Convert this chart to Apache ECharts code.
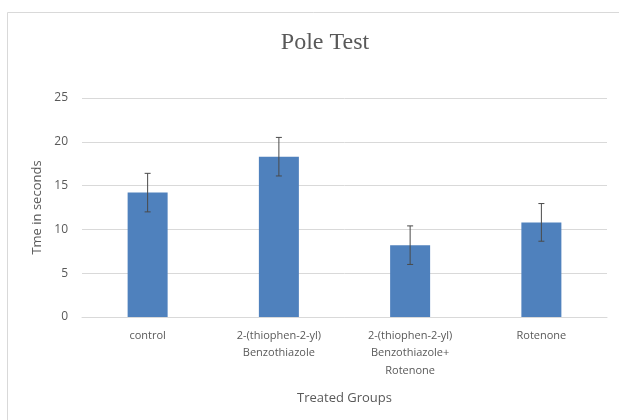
<!DOCTYPE html>
<html>
<head>
<meta charset="utf-8">
<script src="https://cdn.jsdelivr.net/npm/echarts@6/dist/echarts.min.js"></script>
<style>html,body{margin:0;padding:0;background:#fff}#c{width:619px;height:420px}</style>
</head>
<body>
<div id="c"></div>
<script>
const titleText = 'Pole Test';
const categories = ['control', '2-(thiophen-2-yl)\nBenzothiazole', '2-(thiophen-2-yl)\nBenzothiazole+\nRotenone', 'Rotenone'];
const means = [14.2, 18.3, 8.2, 10.8];
const errors = [2.2, 2.2, 2.2, 2.15];
const yTicks = [0, 5, 10, 15, 20, 25];
const yName = 'Tme in seconds';
const xName = 'Treated Groups';

const errData = means.map((m, i) => [i, m - errors[i], m + errors[i]]);
const font = '"Open Sans", "Liberation Sans", sans-serif';
const chart = echarts.init(document.getElementById('c'), null, {renderer: 'canvas'});
chart.setOption({
  animation: false,
  backgroundColor: '#fff',
  graphic: [
    {type: 'rect', silent: true, shape: {x: 7.5, y: 12.5, width: 700, height: 500}, style: {fill: 'none', stroke: '#d9d9d9', lineWidth: 1}, z: -1},
    {type: 'text', x: 325, y: 43, style: {text: titleText, font: '24px "Liberation Serif", "DejaVu Serif", serif', fill: '#595959', textAlign: 'center', textVerticalAlign: 'middle'}}
  ],
  grid: {left: 82, right: 12, top: 98, bottom: 103},
  xAxis: {
    type: 'category',
    data: categories,
    name: xName,
    nameLocation: 'middle',
    nameGap: 75,
    nameTextStyle: {color: '#595959', fontSize: 13, fontFamily: font},
    axisLine: {show: true, lineStyle: {color: '#d9d9d9'}},
    axisTick: {show: false},
    axisLabel: {color: '#595959', fontSize: 11, fontFamily: font, lineHeight: 17.5, margin: 10, interval: 0}
  },
  yAxis: {
    type: 'value',
    min: 0, max: 25, interval: 5,
    name: yName,
    nameLocation: 'middle',
    nameGap: 36,
    nameTextStyle: {color: '#595959', fontSize: 13, fontFamily: font},
    axisLine: {show: false},
    axisTick: {show: false},
    axisLabel: {color: '#595959', fontSize: 12, fontFamily: font, margin: 14,
      formatter: v => yTicks.includes(v) ? String(v) : ''},
    splitLine: {lineStyle: {color: '#d9d9d9'}}
  },
  series: [
    {type: 'bar', data: means, barWidth: 40, itemStyle: {color: '#4f81bd'}},
    {type: 'custom', data: errData, z: 5,
      renderItem: function (params, api) {
        const x = api.value(0);
        const lo = api.coord([x, api.value(1)]);
        const hi = api.coord([x, api.value(2)]);
        const hw = 3;
        const st = {stroke: '#4a4a4a', lineWidth: 1};
        return {type: 'group', children: [
          {type: 'line', shape: {x1: lo[0], y1: lo[1], x2: hi[0], y2: hi[1]}, style: st},
          {type: 'line', shape: {x1: hi[0] - hw, y1: hi[1], x2: hi[0] + hw, y2: hi[1]}, style: st},
          {type: 'line', shape: {x1: lo[0] - hw, y1: lo[1], x2: lo[0] + hw, y2: lo[1]}, style: st}
        ]};
      }
    }
  ]
});
</script>
</body>
</html>
